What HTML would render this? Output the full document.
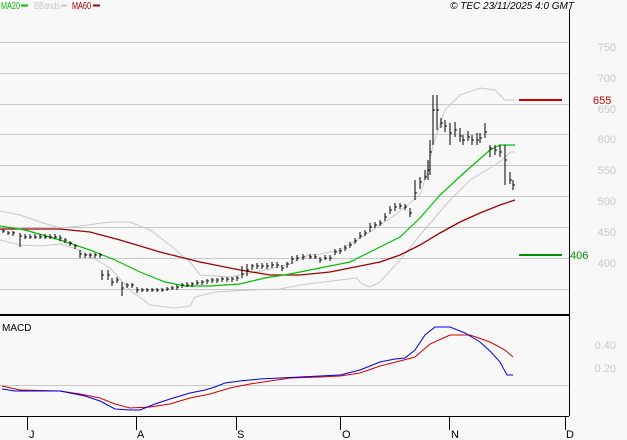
<!DOCTYPE html>
<html><head><meta charset="utf-8"><style>
body{margin:0;background:#f8f8f8;}
svg{display:block;font-family:"Liberation Sans",sans-serif;}
</style></head><body>
<svg width="627" height="440" viewBox="0 0 627 440" xmlns="http://www.w3.org/2000/svg">
<rect width="627" height="440" fill="#f8f8f8"/>
<g stroke="#c8c8c8" stroke-width="1">
<line x1="0" y1="42.5" x2="569" y2="42.5"/><line x1="0" y1="73.5" x2="569" y2="73.5"/>
<line x1="0" y1="104.5" x2="569" y2="104.5"/><line x1="0" y1="134.5" x2="569" y2="134.5"/>
<line x1="0" y1="165.5" x2="569" y2="165.5"/><line x1="0" y1="196.5" x2="569" y2="196.5"/>
<line x1="0" y1="227.5" x2="569" y2="227.5"/><line x1="0" y1="258.5" x2="569" y2="258.5"/>
<line x1="0" y1="289.5" x2="569" y2="289.5"/><line x1="0" y1="385.5" x2="569" y2="385.5"/>
</g>
<g fill="#c8c8c8" font-size="11" text-anchor="end">
<text x="616" y="51">750</text><text x="616" y="82">700</text><text x="616" y="113">650</text>
<text x="616" y="143">600</text><text x="616" y="174">550</text><text x="616" y="205">500</text>
<text x="616" y="236">450</text><text x="616" y="267">400</text>
<text x="616" y="349">0.40</text><text x="616" y="372">0.20</text>
</g>
<line x1="569.5" y1="9" x2="569.5" y2="416" stroke="#000"/>
<line x1="0" y1="315" x2="569" y2="315" stroke="#000" stroke-width="2"/>
<line x1="0" y1="416.5" x2="569" y2="416.5" stroke="#000"/>
<g stroke="#000"><line x1="27.5" y1="416" x2="27.5" y2="430"/><line x1="136.5" y1="416" x2="136.5" y2="430"/><line x1="236.5" y1="416" x2="236.5" y2="430"/><line x1="340.5" y1="416" x2="340.5" y2="430"/><line x1="449.5" y1="416" x2="449.5" y2="430"/><line x1="565.5" y1="416" x2="565.5" y2="430"/></g>
<g font-size="11" fill="#000"><text x="29" y="438">J</text><text x="137" y="438">A</text><text x="237" y="438">S</text><text x="342" y="438">O</text><text x="451" y="438">N</text><text x="566" y="438">D</text></g>
<text x="2" y="331" font-size="10" fill="#000">MACD</text>
<text x="1" y="9" font-size="10" fill="#00c000" textLength="19" lengthAdjust="spacingAndGlyphs">MA20</text><line x1="21" y1="5.5" x2="28" y2="5.5" stroke="#00c000" stroke-width="2"/>
<text x="34" y="9" font-size="10" fill="#c8c8c8" textLength="26" lengthAdjust="spacingAndGlyphs">BBands</text><line x1="61" y1="5.5" x2="67" y2="5.5" stroke="#c8c8c8" stroke-width="2"/>
<text x="72" y="9" font-size="10" fill="#a00000" textLength="19" lengthAdjust="spacingAndGlyphs">MA60</text><line x1="93" y1="5.5" x2="100" y2="5.5" stroke="#a00000" stroke-width="2"/>
<text x="574" y="9" font-size="10" font-style="italic" fill="#000" text-anchor="end">© TEC 23/11/2025 4:0 GMT</text>
<polyline fill="none" stroke="#c8c8c8" points="0,211 20,215 40,222 60,228 80,226 110,222 130,222 150,230 170,245 190,262 200,275 230,277 270,269 290,264 300,258 310,255 320,254 340,250 370,232 395,215 420,195 428,170 433,145 445,110 460,95 480,88 495,90 505,100 515,100"/>
<polyline fill="none" stroke="#c8c8c8" points="0,240 20,245 40,246 60,244 80,250 110,268 130,290 150,305 175,308 190,306 195,297 215,292 250,290 280,289 300,285 340,280 357,278 360,282 365,285 370,287 380,282 400,260 420,235 450,200 470,180 495,165 502,160 510,152 515,152"/>
<polyline fill="none" stroke="#a00000" stroke-width="1.3" points="0,229 60,229 90,232 120,240 160,252 200,262 240,270 270,275 300,275 330,272 350,268 380,262 400,255 420,245 440,233 460,222 480,213 500,205 515,200"/>
<polyline fill="none" stroke="#00c000" stroke-width="1.2" points="0,226 25,230 60,240 90,250 115,260 140,272 165,282 185,286 210,286 240,284 265,278 290,274 320,268 350,262 370,252 400,237 420,218 440,195 465,172 490,150 500,145 515,145"/>
<path fill="none" stroke="#000" d="M3 229v4M8 231v4M13 231v5M20 233v14M25 234v5M30 234v5M35 234v5M40 234v5M45 234v5M50 234v5M55 234v5M60 235v6M65 238v5M70 241v5M75 244v5M80 250v8M85 253v5M90 253v5M95 253v5M100 253v5M102 270v10M108 270v10M112 278v8M117 277v6M122 282v14M127 283v5M132 283v5M137 287v6M142 288v4M147 288v4M152 288v4M157 288v4M162 288v4M167 287v4M172 286v4M177 285v5M182 283v5M187 282v5M192 282v5M197 280v5M202 280v5M207 279v5M212 278v5M217 278v5M222 277v5M227 277v5M232 277v5M237 276v5M242 266v12M247 264v12M252 264v6M257 263v6M262 263v6M267 263v6M272 262v6M277 262v6M282 265v6M287 262v6M292 256v8M297 255v6M303 254v6M310 254v5M315 254v5M320 257v6M325 255v5M330 255v6M335 249v6M340 248v6M345 245v6M350 242v6M355 238v6M360 232v7M365 230v6M370 223v9M375 222v6M380 220v6M385 213v8M390 206v8M395 203v8M400 203v6M405 204v6M410 208v9M415 180v20M420 177v12M425 170v10M428 160v20M430 140v35M433 95v50M437 95v35M441 118v10M445 120v12M450 123v22M455 122v15M460 128v14M463 135v10M468 131v10M472 135v10M477 133v12M480 133v10M485 123v15M490 145v12M495 145v10M500 145v12M505 145v40M510 172v12M513 180v10"/>
<g stroke="#000"><path d="M3 231h2M8 233h2M13 233h2M20 236h2M25 237h2M30 237h2M35 237h2M40 237h2M45 237h2M50 237h2M55 237h2M60 238h2M65 240h2M70 243h2M75 246h2M80 254h2M85 255h2M90 255h2M95 255h2M100 255h2M102 275h2M108 275h2M112 282h2M117 280h2M122 288h2M127 285h2M132 285h2M137 290h2M142 290h2M147 290h2M152 290h2M157 290h2M162 290h2M167 289h2M172 288h2M177 287h2M182 285h2M187 285h2M192 284h2M197 283h2M202 282h2M207 281h2M212 280h2M217 280h2M222 279h2M227 279h2M232 279h2M237 278h2M242 274h2M247 270h2M252 266h2M257 266h2M262 266h2M267 266h2M272 265h2M277 265h2M282 268h2M287 264h2M292 259h2M297 258h2M303 257h2M310 257h2M315 257h2M320 260h2M325 258h2M330 258h2M335 252h2M340 251h2M345 248h2M350 245h2M355 241h2M360 236h2M365 233h2M370 227h2M375 225h2M380 223h2M385 217h2M390 210h2M395 207h2M400 206h2M405 207h2M410 213h2M415 193h2M420 182h2M425 177h2M428 170h2M430 152h2M433 110h2M437 110h2M441 123h2M445 126h2M450 133h2M455 130h2M460 136h2M463 140h2M468 137h2M472 140h2M477 140h2M480 138h2M485 132h2M490 148h2M495 150h2M500 152h2M505 160h2M510 180h2M513 185h2"/></g>
<line x1="519" y1="100" x2="562" y2="100" stroke="#d00000" stroke-width="2"/>
<text x="593" y="104" font-size="11" fill="#d00000">655</text>
<line x1="519" y1="255" x2="562" y2="255" stroke="#009000" stroke-width="2"/>
<text x="570" y="259" font-size="11" fill="#009000">406</text>
<polyline fill="none" stroke="#d00000" points="2,386 20,390 60,391 80,394 100,398 115,404 130,408 150,407 170,404 190,398 210,394 230,388 250,384 270,381 290,378 320,377 340,376 360,373 380,366 400,361 415,357 430,344 450,335 470,335 490,342 505,350 513,357"/>
<polyline fill="none" stroke="#0000e0" points="2,389 15,391 35,391 60,391 70,393 85,396 100,401 115,409 130,410 140,410 155,404 170,399 190,393 205,390 215,387 225,383 240,381 260,379 280,378 300,377 320,376 340,375 360,370 380,362 395,359 405,358 415,350 425,335 435,327 450,327 465,333 480,342 490,351 500,362 507,375 513,375"/>
</svg>
</body></html>
